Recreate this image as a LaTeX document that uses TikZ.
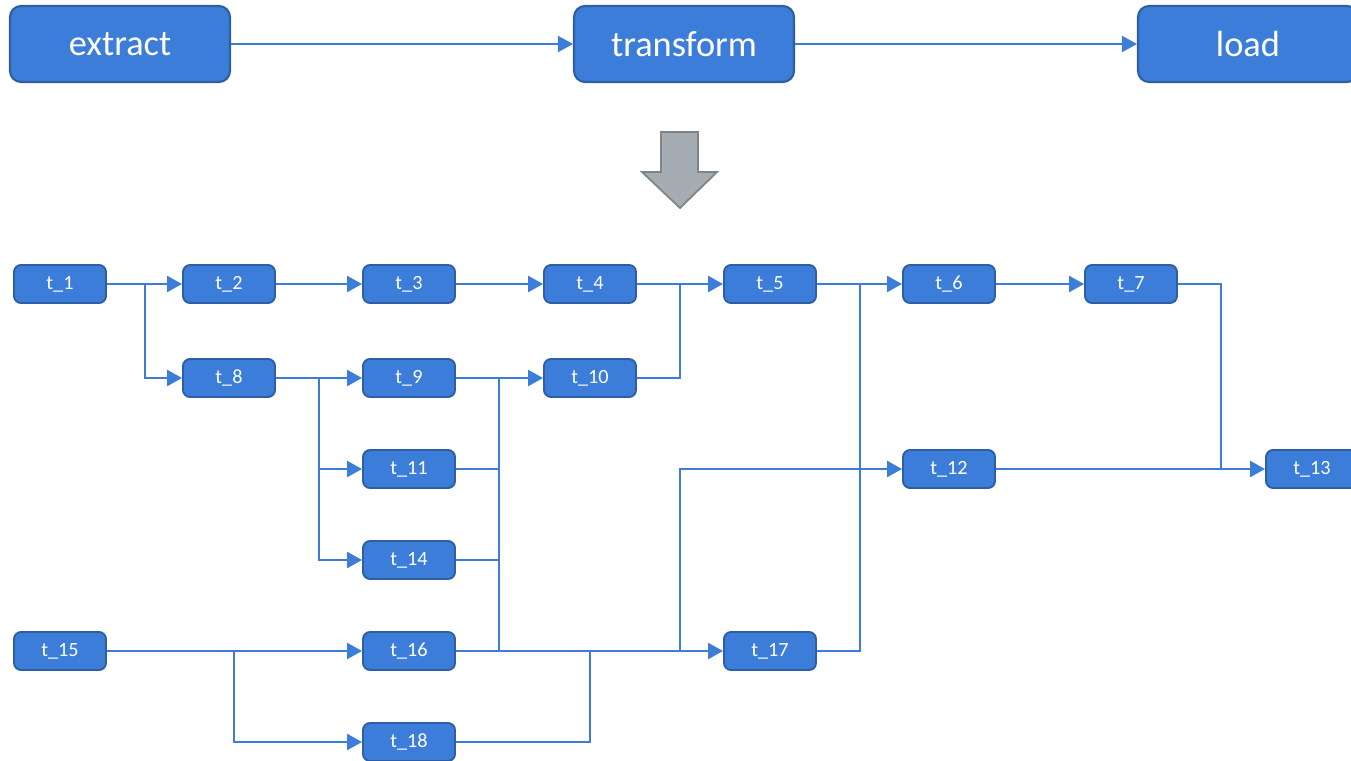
\documentclass[tikz,border=0pt]{standalone}
\usepackage{fontspec}
\setmainfont{Carlito}
\usetikzlibrary{arrows.meta}
\definecolor{boxblue}{HTML}{3C7DD9}
\definecolor{boxedge}{HTML}{2E5EA6}
\definecolor{arrowgray}{HTML}{A5ADB3}
\definecolor{arrowedge}{HTML}{7D858B}
\begin{document}
\begin{tikzpicture}[x=0.02cm,y=-0.02cm,
  stage/.style={draw=boxedge, fill=boxblue, line width=1.2pt, rounded corners=0.22cm,
    minimum width=4.4cm, minimum height=1.52cm, text=white, inner sep=0pt,
    font=\fontsize{20.7}{24}\selectfont},
  task/.style={draw=boxedge, fill=boxblue, line width=1.1pt, rounded corners=0.14cm,
    minimum width=1.84cm, minimum height=0.76cm, text=white, inner sep=0pt,
    font=\fontsize{11.5}{13}\selectfont},
  flow/.style={draw=boxblue, line width=1.3pt, -{Triangle[length=0.3cm,width=0.32cm]}},
  wire/.style={draw=boxblue, line width=1.3pt}]
\useasboundingbox (0,0) rectangle (1351,760);
\clip (0,0) rectangle (1351,760);

% ETL stages
\node[stage] (ext) at (120,44) {extract};
\node[stage] (tra) at (684,44) {transform};
\node[stage] (lod) at (1248,44) {load};
\draw[flow, line width=1.1pt] (ext) -- (tra);
\draw[flow, line width=1.1pt] (tra) -- (lod);

% expansion arrow
\draw[fill=arrowgray, draw=arrowedge, line width=1pt]
  (661,132) -- (698,132) -- (698,172) -- (717,172) -- (680,208) -- (642,172) -- (661,172) -- cycle;

% task nodes
\node[task] (t1)  at (60,284)  {t\_1};
\node[task] (t2)  at (229,284) {t\_2};
\node[task] (t3)  at (409,284) {t\_3};
\node[task] (t4)  at (590,284) {t\_4};
\node[task] (t5)  at (770,284) {t\_5};
\node[task] (t6)  at (949,284) {t\_6};
\node[task] (t7)  at (1131,284) {t\_7};
\node[task] (t8)  at (229,378) {t\_8};
\node[task] (t9)  at (409,378) {t\_9};
\node[task] (t10) at (590,378) {t\_10};
\node[task] (t11) at (409,469) {t\_11};
\node[task] (t12) at (949,469) {t\_12};
\node[task] (t13) at (1312,469) {t\_13};
\node[task] (t14) at (409,560) {t\_14};
\node[task] (t15) at (60,651)  {t\_15};
\node[task] (t16) at (409,651) {t\_16};
\node[task] (t17) at (770,651) {t\_17};
\node[task] (t18) at (409,742) {t\_18};

% junction points
\coordinate (j1)  at (145,284);
\coordinate (j4)  at (680,284);
\coordinate (j5)  at (860,284);
\coordinate (j8)  at (319,378);
\coordinate (j9)  at (499,378);
\coordinate (jb)  at (499,651);
\coordinate (j12) at (1221,469);
\coordinate (j15) at (234,651);
\coordinate (j17) at (680,651);
\coordinate (j18) at (590,651);

% connectors
\draw[flow] (t1) -- (t2);
\draw[flow] (j1) |- (t8.west);
\draw[flow] (t2) -- (t3);
\draw[flow] (t3) -- (t4);
\draw[flow] (t4) -- (t5);
\draw[wire] (t10.east) -| (j4);
\draw[flow] (t8) -- (t9);
\draw[flow] (j8) |- (t11.west);
\draw[flow] (j8) |- (t14.west);
\draw[flow] (t9) -- (t10);
\draw[wire] (j9) -- (jb);
\draw[wire] (t11.east) -- (t11.east -| j9);
\draw[wire] (t14.east) -- (t14.east -| j9);
\draw[flow] (t15) -- (t16);
\draw[flow] (j15) |- (t18.west);
\draw[flow] (t16) -- (t17);
\draw[wire] (t18.east) -| (j18);
\draw[flow] (j17) |- (t12.west);
\draw[flow] (t5) -- (t6);
\draw[wire] (t17.east) -| (j5);
\draw[flow] (t6) -- (t7);
\draw[flow] (t12) -- (t13);
\draw[wire] (t7.east) -| (j12);
\end{tikzpicture}
\end{document}
